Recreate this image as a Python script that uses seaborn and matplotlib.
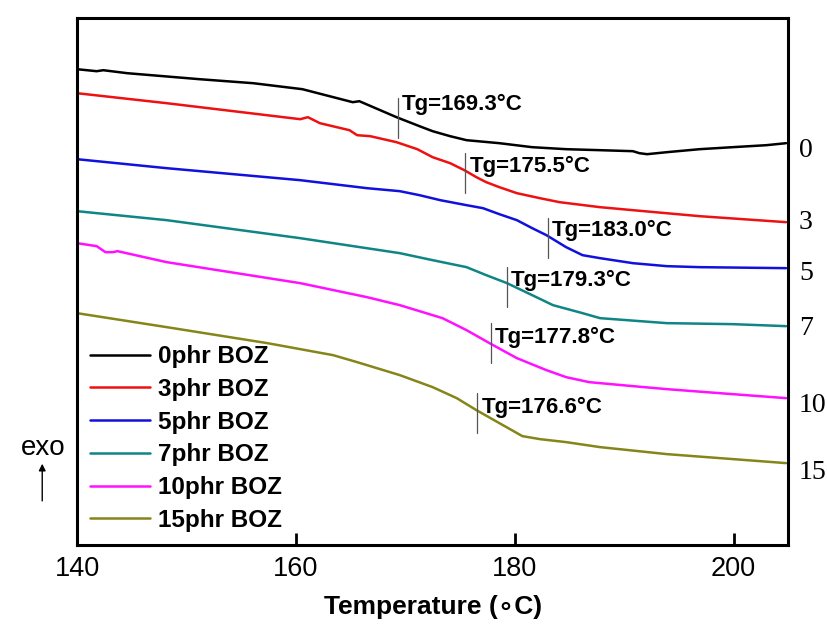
import numpy as np
import pandas as pd
import seaborn as sns
import matplotlib.pyplot as plt
from matplotlib.patches import FancyArrowPatch

# DSC curves, heat flow in arbitrary units
t_0 = [140.0, 141.8, 142.4, 144.6, 151.2, 156.1, 160.6, 165.2, 165.8, 169.2, 171.3, 172.5, 174.1, 175.6,
       178.6, 181.6, 184.7, 187.8, 190.8, 191.4, 192.1, 193.0, 193.9, 196.9, 199.9, 203.0, 204.8]
h_0 = [4.76, 4.74, 4.75, 4.72, 4.66, 4.62, 4.56, 4.43, 4.44, 4.28, 4.19, 4.14, 4.09, 4.05,
       4.02, 3.98, 3.96, 3.95, 3.94, 3.92, 3.91, 3.92, 3.93, 3.96, 3.98, 4.00, 4.02]

t_3 = [140.0, 148.2, 160.4, 161.1, 162.2, 164.9, 165.6, 166.8, 169.2, 171.1, 172.5, 174.1, 175.4,
       176.5, 177.4, 178.6, 180.2, 182.3, 184.1, 187.8, 190.8, 196.9, 204.8]
h_3 = [4.52, 4.42, 4.26, 4.28, 4.22, 4.15, 4.10, 4.09, 4.03, 3.96, 3.88, 3.82, 3.75,
       3.68, 3.63, 3.58, 3.52, 3.47, 3.43, 3.38, 3.35, 3.29, 3.23]

t_5 = [140.0, 148.2, 160.4, 166.5, 169.5, 171.3, 173.2, 175.6, 177.1, 178.6, 180.2, 181.6, 182.9,
       184.7, 186.2, 187.8, 190.8, 193.9, 196.9, 204.8]
h_5 = [3.86, 3.77, 3.65, 3.57, 3.54, 3.50, 3.45, 3.40, 3.37, 3.31, 3.25, 3.17, 3.10,
       2.98, 2.90, 2.87, 2.82, 2.79, 2.78, 2.77]

t_7 = [140.0, 148.2, 160.4, 169.5, 172.5, 175.6, 177.4, 179.3, 181.6, 183.5, 186.2, 187.8, 193.9, 199.9, 204.8]
h_7 = [3.34, 3.25, 3.07, 2.92, 2.85, 2.78, 2.70, 2.62, 2.50, 2.40, 2.32, 2.27, 2.22, 2.21, 2.19]

t_10 = [140.0, 141.8, 142.6, 143.3, 143.7, 148.2, 160.4, 166.5, 169.5, 173.4, 175.6, 177.7, 180.2,
        182.9, 184.7, 186.8, 190.8, 193.9, 199.9, 204.8]
h_10 = [3.02, 2.99, 2.93, 2.93, 2.94, 2.83, 2.62, 2.48, 2.40, 2.27, 2.15, 2.02, 1.87,
        1.75, 1.68, 1.63, 1.59, 1.56, 1.51, 1.47]

t_15 = [140.0, 148.2, 157.4, 163.4, 165.6, 169.5, 172.5, 174.7, 176.5, 178.6, 180.7, 182.3, 184.7,
        187.8, 193.9, 204.8]
h_15 = [2.32, 2.18, 2.02, 1.90, 1.83, 1.70, 1.58, 1.47, 1.35, 1.22, 1.09, 1.06, 1.03,
        0.98, 0.91, 0.82]

labels = ['0phr BOZ', '3phr BOZ', '5phr BOZ', '7phr BOZ', '10phr BOZ', '15phr BOZ']
colors = ['#000000', '#ee1111', '#1111dd', '#108585', '#ff11ff', '#85851a']
end_tags = ['0', '3', '5', '7', '10', '15']
end_tag_y = [3.95, 3.23, 2.72, 2.17, 1.40, 0.73]

# Tg markers: temperature, marker top, marker bottom, label y
tg = [169.3, 175.5, 183.0, 179.3, 177.8, 176.6]
tg_top = [4.47, 3.92, 3.27, 2.78, 2.22, 1.52]
tg_bot = [4.07, 3.52, 2.87, 2.38, 1.82, 1.12]
tg_label_y = [4.41, 3.79, 3.15, 2.65, 2.08, 1.38]

series = [(t_0, h_0), (t_3, h_3), (t_5, h_5), (t_7, h_7), (t_10, h_10), (t_15, h_15)]

sns.set_style('ticks')
plt.rcParams['font.family'] = ['Liberation Sans', 'DejaVu Sans']
plt.rcParams['text.color'] = 'black'
plt.rcParams['axes.labelcolor'] = 'black'
plt.rcParams['xtick.color'] = 'black'

fig = plt.figure(figsize=(8.28, 6.28), dpi=100)
ax = fig.add_axes([0.093, 0.132, 0.859, 0.839])

for (t, h), lab, c in zip(series, labels, colors):
    df = pd.DataFrame({'T': t, 'H': h})
    sns.lineplot(data=df, x='T', y='H', color=c, label=lab, linewidth=1.8,
                 estimator=None, sort=False, ax=ax)

for x, y0, y1, ly in zip(tg, tg_top, tg_bot, tg_label_y):
    ax.plot([x, x], [y0, y1], color='#555555', linewidth=0.9)
    ax.text(x + 0.35, ly, f'Tg={x:.1f}°C', fontsize=16, fontweight='bold',
            va='center', ha='left')

trans = ax.get_yaxis_transform()
for tag, y in zip(end_tags, end_tag_y):
    ax.text(1.015, y, tag, transform=trans, fontsize=20, va='center', ha='left',
            family='Liberation Serif')

ax.set_xlim(140, 205)
ax.set_ylim(0, 5.27)
ax.set_xticks([140, 160, 180, 200])
ax.set_yticks([])
ax.tick_params(axis='x', direction='in', length=9, width=2, labelsize=19.5, pad=8)
for s in ax.spines.values():
    s.set_linewidth(2.2)
    s.set_color('black')
    s.set_visible(True)

ax.set_xlabel('Temperature (\u2218C)', fontsize=19, fontweight='bold', labelpad=9,
              family=['Liberation Sans', 'DejaVu Sans'])
ax.set_ylabel('')

leg = ax.legend(loc='lower left', bbox_to_anchor=(0.0, 0.0), frameon=False,
                prop={'weight': 'bold', 'size': 17.5}, handlelength=2.45,
                labelspacing=0.4, handletextpad=0.35, borderaxespad=0.15)

fig.text(0.052, 0.287, 'exo', fontsize=20, ha='center', va='center')
fig.patches.append(FancyArrowPatch(
    (0.051, 0.198), (0.051, 0.266), transform=fig.transFigure,
    arrowstyle='-|>', mutation_scale=10, color='black', linewidth=1))

fig.savefig('out.png', dpi=100)
